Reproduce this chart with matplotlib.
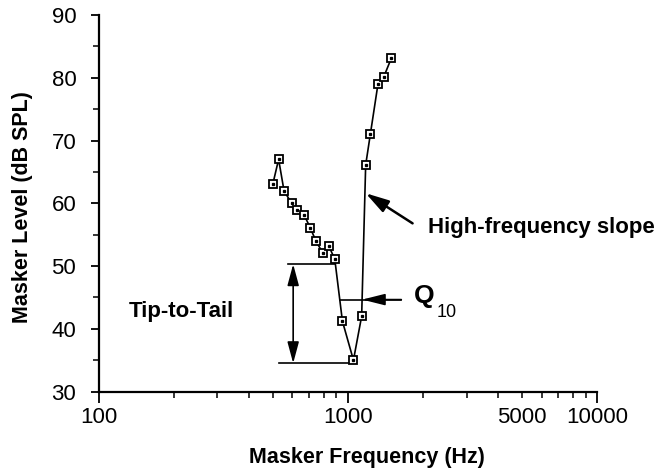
import numpy as np
import matplotlib
matplotlib.use("Agg")
import matplotlib.pyplot as plt
from matplotlib.ticker import FixedLocator, NullFormatter, MultipleLocator

# masker frequency (Hz) and masker level (dB SPL)
freq = [500, 528, 555, 595, 623, 669, 707, 745, 796, 839, 887,
        952, 1054, 1137, 1180, 1232, 1322, 1393, 1495]
level = [63.0, 67.0, 62.0, 60.0, 59.0, 58.1, 56.1, 54.0, 52.0, 53.2, 51.1,
         41.2, 35.0, 42.0, 66.1, 71.0, 79.0, 80.1, 83.1]

x_ticks = [100, 1000, 5000, 10000]
x_labels = ["100", "1000", "5000", "10000"]
y_ticks = [30, 40, 50, 60, 70, 80, 90]

# annotation levels
tail_level = 50.3
tip_level = 34.5
q10_level = 44.65

plt.rcParams['font.family'] = ['Liberation Sans', 'DejaVu Sans']

fig = plt.figure(figsize=(6.58, 4.70), dpi=100)
ax = fig.add_axes([0.1497, 0.167, 0.7576, 0.801])

ax.plot(freq, level, color="black", lw=1.2, marker="s", ms=5.5,
        mfc="white", mec="black", mew=1.3, zorder=3)
ax.plot(freq, level, ls="none", marker="s", ms=1.4, color="black", zorder=4)

ax.set_xscale("log")
ax.set_xlim(100, 10000)
ax.set_ylim(30, 90)

ax.xaxis.set_major_locator(FixedLocator([100, 1000, 10000]))
ax.xaxis.set_major_formatter(NullFormatter())
minor = [m * d for d in (100, 1000) for m in range(2, 10)]
ax.xaxis.set_minor_locator(FixedLocator(minor))
ax.xaxis.set_minor_formatter(NullFormatter())
for xt, lab in zip(x_ticks, x_labels):
    ax.text(xt, -0.04, lab, transform=ax.get_xaxis_transform(),
            ha="center", va="top", fontsize=16)

ax.set_yticks(y_ticks)
ax.yaxis.set_minor_locator(MultipleLocator(5))
ax.tick_params(axis="y", which="major", direction="out", length=6, width=1.3,
               labelsize=16, pad=10)
ax.tick_params(axis="y", which="minor", direction="out", length=4, width=1.1)
ax.tick_params(axis="x", which="major", direction="out", length=8, width=1.3)
ax.tick_params(axis="x", which="minor", direction="out", length=4, width=1.1)

for s in ("top", "right"):
    ax.spines[s].set_visible(False)
for s in ("left", "bottom"):
    ax.spines[s].set_linewidth(1.6)

ax.set_xlabel("Masker Frequency (Hz)", fontsize=15.5, fontweight="bold")
ax.xaxis.set_label_coords(0.538, -0.148)
ax.set_ylabel("Masker Level (dB SPL)", fontsize=15.5, fontweight="bold")
ax.yaxis.set_label_coords(-0.131, 0.49)

# tip-to-tail lines and double arrow
lf = np.log10(freq)
tail_end = 10 ** np.interp(tail_level, [level[11], level[10]], [lf[11], lf[10]])
ax.plot([575, tail_end], [tail_level, tail_level], color="black", lw=1.2)
ax.plot([528, 1054], [tip_level, tip_level], color="black", lw=1.2)
ax.annotate("", xy=(604, tail_level), xytext=(604, tip_level),
            arrowprops=dict(arrowstyle="<|-|>,head_length=1.3,head_width=0.35",
                            color="black", lw=1.2, shrinkA=0, shrinkB=0))
ax.text(132, 42.7, "Tip-to-Tail", fontsize=16, fontweight="bold", va="center")

# Q10 line and arrow
q_left = 10 ** np.interp(q10_level, [level[11], level[10]], [lf[11], lf[10]])
q_right = 10 ** np.interp(q10_level, [level[13], level[14]], [lf[13], lf[14]])
ax.plot([q_left, 1640], [q10_level, q10_level], color="black", lw=1.2)
ax.annotate("", xy=(q_right, q10_level), xytext=(1640, q10_level),
            arrowprops=dict(arrowstyle="-|>,head_length=1.4,head_width=0.35",
                            color="black", lw=1.2, shrinkA=0, shrinkB=0))
ax.text(1850, 45.3, "Q", fontsize=19, fontweight="bold", va="center")
ax.text(2267, 42.6, "10", fontsize=13, va="center")

# high-frequency slope arrow
ax.annotate("", xy=(1180, 61.6), xytext=(1820, 56.8),
            arrowprops=dict(arrowstyle="-|>,head_length=1.4,head_width=0.4",
                            color="black", lw=1.8, shrinkA=0, shrinkB=0))
ax.text(2090, 56.2, "High-frequency slope", fontsize=16, fontweight="bold",
        va="center")

fig.savefig("out.png", dpi=100)
